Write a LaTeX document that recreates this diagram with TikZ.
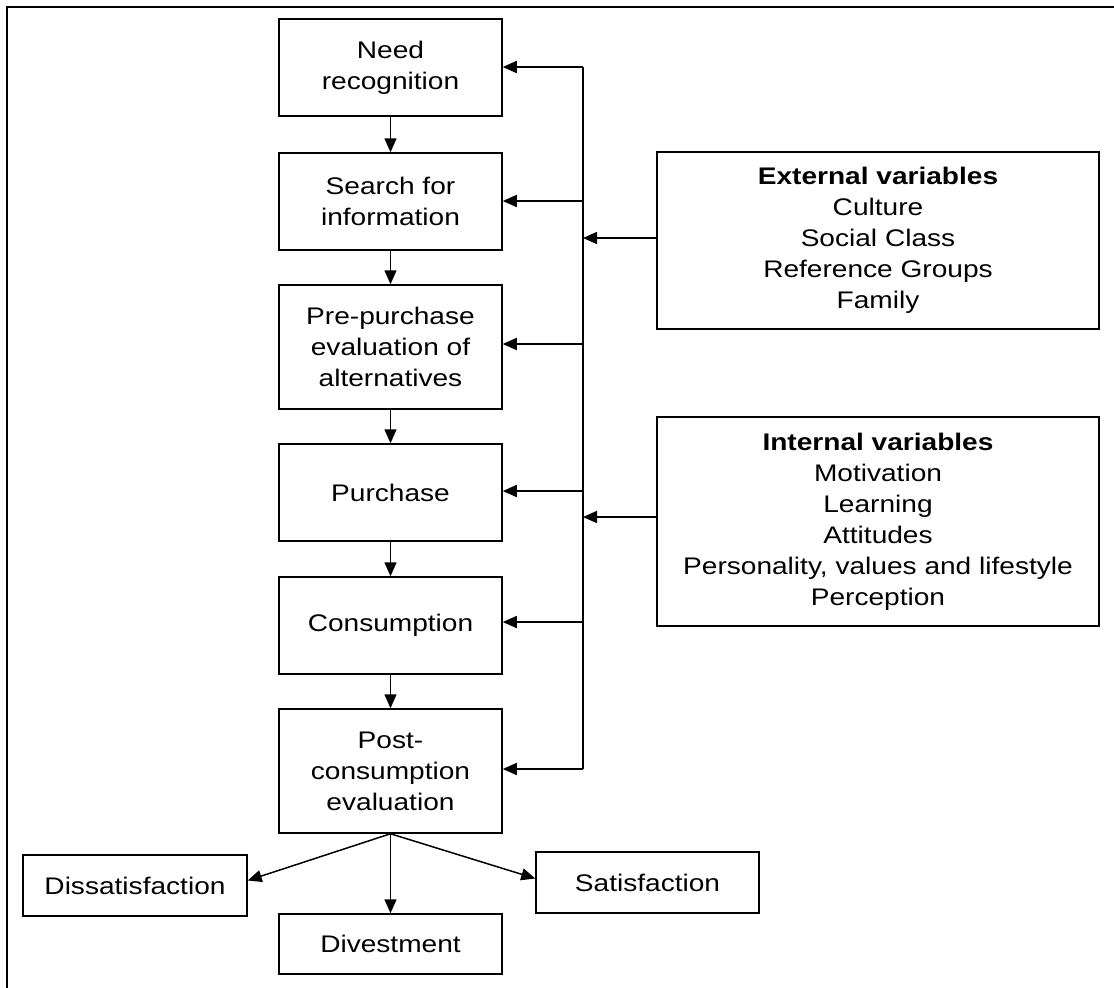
\documentclass[tikz,border=0pt]{standalone}
\usepackage{fontspec}
\setmainfont{Liberation Sans}[FakeStretch=1.17]
\usetikzlibrary{arrows.meta,calc}

\begin{document}
\begin{tikzpicture}[
    x=1pt, y=-1pt,
    every node/.style={font=\fontsize{24}{31}\selectfont},
    stagebox/.style={draw, line width=1.5pt, align=center, inner sep=0pt,
                     minimum width=223pt},
    varbox/.style={draw, line width=1.5pt, align=center, inner sep=0pt,
                   minimum width=442pt},
    arr/.style={line width=1.5pt, -{Triangle[length=14pt,width=12pt]}},
    wire/.style={line width=1.5pt}
  ]
  \useasboundingbox (0,0) rectangle (1114,988);

  % page frame (top and left rules)
  \draw[wire] (1114,7) -- (7,7) -- (7,988);

  % decision process stages
  \node[stagebox, minimum height=97pt]  (need)   at (390.5,67.5)  {Need\\recognition};
  \node[stagebox, minimum height=97pt]  (search) at (390.5,201.5) {Search for\\information};
  \node[stagebox, minimum height=124pt] (pre)    at (390.5,347)   {Pre-purchase\\evaluation of\\alternatives};
  \node[stagebox, minimum height=97pt]  (purch)  at (390.5,492.5) {Purchase};
  \node[stagebox, minimum height=97pt]  (cons)   at (390.5,625.5) {Consumption};
  \node[stagebox, minimum height=124pt] (post)   at (390.5,771)   {Post-\\consumption\\evaluation};

  % outcomes
  \node[stagebox, minimum width=224pt, minimum height=61pt] (dis) at (135,885.5)   {Dissatisfaction};
  \node[stagebox, minimum height=60pt]  (div) at (390.5,944)   {Divestment};
  \node[stagebox, minimum height=61pt]  (sat) at (647.5,882.5) {Satisfaction};

  % influencing variables
  \node[varbox, minimum height=177pt] (ext) at (878,240.5)
    {\textbf{External variables}\\Culture\\Social Class\\Reference Groups\\Family};
  \node[varbox, minimum height=209pt] (int) at (878,521.5)
    {\textbf{Internal variables}\\Motivation\\Learning\\Attitudes\\Personality, values and lifestyle\\Perception};

  % main flow
  \draw[arr] (need) -- (search);
  \draw[arr] (search) -- (pre);
  \draw[arr] (pre) -- (purch);
  \draw[arr] (purch) -- (cons);
  \draw[arr] (cons) -- (post);

  % outcome arrows
  \draw[arr] (post.south) -- ($(dis.east)+(0,-5)$);
  \draw[arr] (post.south) -- (div.north);
  \draw[arr] (post.south) -- ($(sat.west)+(0,-4)$);

  % feedback bus feeding every stage
  \coordinate (b1) at (583,67);
  \coordinate (b2) at (583,201);
  \coordinate (b3) at (583,344);
  \coordinate (b4) at (583,491);
  \coordinate (b5) at (583,622);
  \coordinate (b6) at (583,769);
  \coordinate (eIn) at (583,238);
  \coordinate (iIn) at (583,517);

  \draw[wire] (b1) -- (b6);
  \draw[arr] (b1) -- (need.east |- b1);
  \draw[arr] (b2) -- (search.east |- b2);
  \draw[arr] (b3) -- (pre.east |- b3);
  \draw[arr] (b4) -- (purch.east |- b4);
  \draw[arr] (b5) -- (cons.east |- b5);
  \draw[arr] (b6) -- (post.east |- b6);

  \draw[arr] (ext.west |- eIn) -- (eIn);
  \draw[arr] (int.west |- iIn) -- (iIn);
\end{tikzpicture}
\end{document}
